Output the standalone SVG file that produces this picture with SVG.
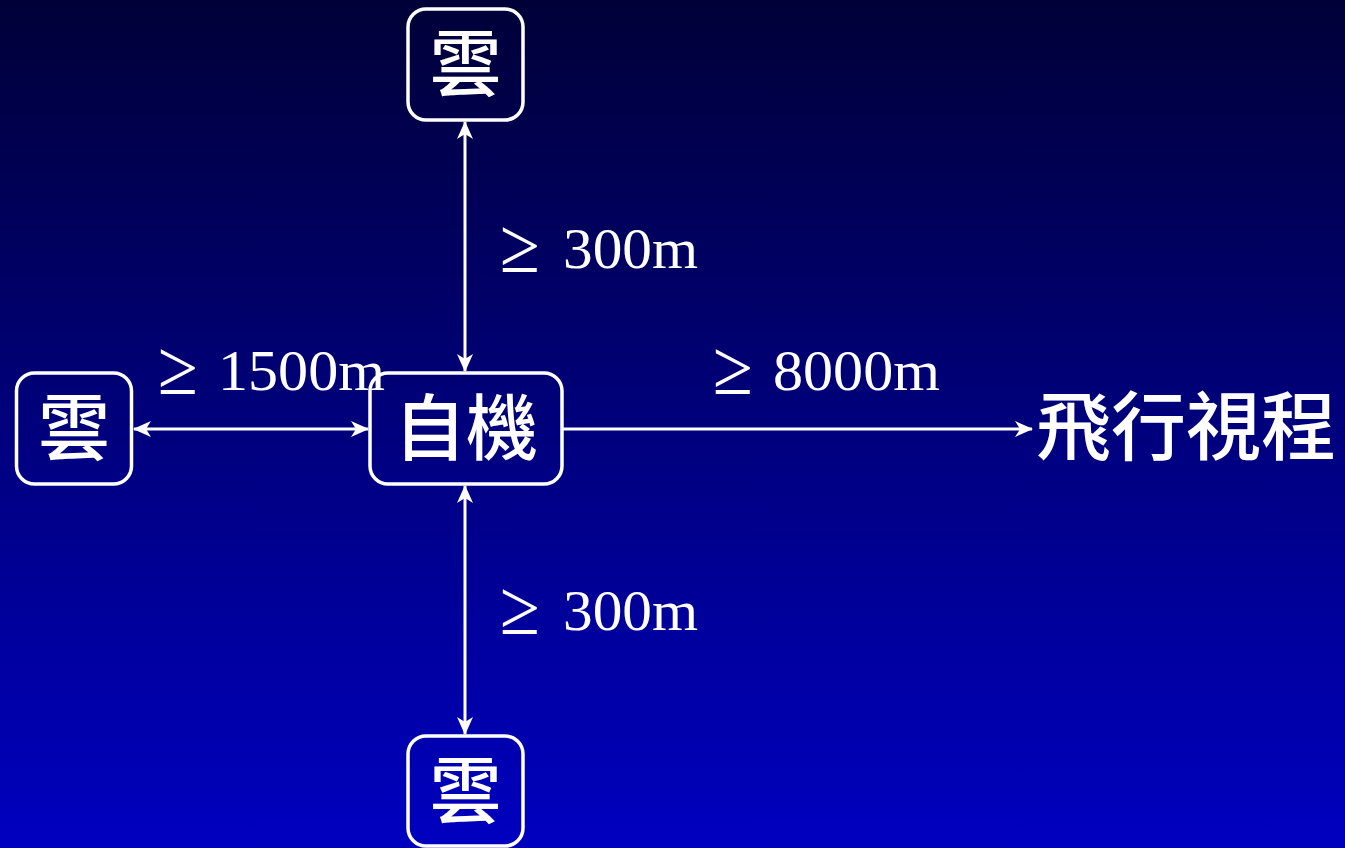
<svg xmlns="http://www.w3.org/2000/svg" width="1345" height="848" viewBox="0 0 1345 848">
<defs>
<linearGradient id="bg" x1="0" y1="0" x2="0" y2="1">
<stop offset="0" stop-color="#000038"/>
<stop offset="1" stop-color="#0000c0"/>
</linearGradient>
<marker id="ah" viewBox="0 0 18 16" refX="17" refY="8" markerWidth="18" markerHeight="16" markerUnits="userSpaceOnUse" orient="auto-start-reverse">
<path d="M0,0 L18,8 L0,16 L5,8 Z" fill="#fff"/>
</marker>
<style>
.box{fill:none;stroke:#fff;stroke-width:3.5}
.cjk{font-family:"Noto Sans CJK TC","Noto Sans CJK JP",sans-serif;fill:#fff;font-weight:500}
.lbl{font-family:"Liberation Serif","DejaVu Serif",serif;fill:#fff;font-size:56px}
.ge{font-family:"Liberation Serif","DejaVu Serif",serif;fill:#fff;font-size:78px}
.ln{stroke:#fff;stroke-width:3;fill:none}
</style>
</defs>
<rect width="1345" height="848" fill="url(#bg)"/>
<g id="connectors">
<line class="ln" x1="465" y1="122" x2="465" y2="371" marker-start="url(#ah)" marker-end="url(#ah)"/>
<line class="ln" x1="465" y1="486" x2="465" y2="734" marker-start="url(#ah)" marker-end="url(#ah)"/>
<line class="ln" x1="134" y1="429" x2="368" y2="429" marker-start="url(#ah)" marker-end="url(#ah)"/>
<line class="ln" x1="563" y1="429" x2="1032" y2="429" marker-end="url(#ah)"/>
<text class="ge" x="500" y="272" textLength="40" lengthAdjust="spacingAndGlyphs">≥</text>
<text class="lbl" x="563" y="268" textLength="135" lengthAdjust="spacingAndGlyphs">300m</text>
<text class="ge" x="500" y="634" textLength="40" lengthAdjust="spacingAndGlyphs">≥</text>
<text class="lbl" x="563" y="630" textLength="135" lengthAdjust="spacingAndGlyphs">300m</text>
<text class="ge" x="158" y="394" textLength="40" lengthAdjust="spacingAndGlyphs">≥</text>
<text class="lbl" x="218" y="390" textLength="167" lengthAdjust="spacingAndGlyphs">1500m</text>
<text class="ge" x="713" y="394" textLength="40" lengthAdjust="spacingAndGlyphs">≥</text>
<text class="lbl" x="773" y="390" textLength="167" lengthAdjust="spacingAndGlyphs">8000m</text>
</g>
<g id="cloud-top">
<rect class="box" x="408" y="9" width="115" height="111" rx="18"/>
<text class="cjk" x="465.5" y="90" font-size="72" text-anchor="middle">雲</text>
</g>
<g id="cloud-left">
<rect class="box" x="16.5" y="373" width="115" height="111" rx="18"/>
<text class="cjk" x="74" y="454" font-size="72" text-anchor="middle">雲</text>
</g>
<g id="self">
<rect class="box" x="370" y="373" width="192" height="111" rx="18"/>
<text class="cjk" x="466" y="454" font-size="72" text-anchor="middle">自機</text>
</g>
<g id="cloud-bottom">
<rect class="box" x="408" y="736" width="115" height="110" rx="18"/>
<text class="cjk" x="465.5" y="817" font-size="72" text-anchor="middle">雲</text>
</g>
<g id="visibility">
<text class="cjk" x="1036" y="454" font-size="75" textLength="300" lengthAdjust="spacingAndGlyphs">飛行視程</text>
</g>
</svg>
